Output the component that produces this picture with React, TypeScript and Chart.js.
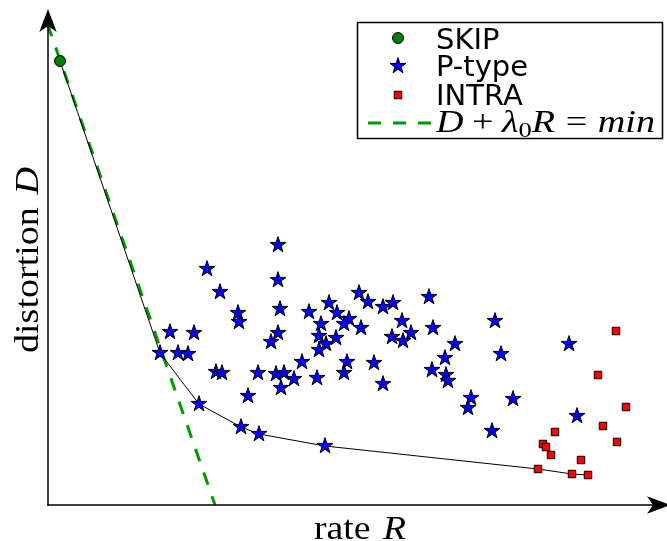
import React, { useEffect, useRef } from "react";
import { Chart, registerables } from "chart.js";

Chart.register(...registerables);

// ---- data (rate R, distortion D) in arbitrary units ----
const skipRate = [13];
const skipDist = [444];

const pRate = [
  113, 152, 194, 212, 278,
  123, 147, 131, 141, 160, 173, 191, 192, 231, 231, 233, 231, 224, 169, 175,
  211, 229, 237, 247, 234, 201, 255, 262, 282, 290, 274, 272, 289, 279, 272,
  270, 312, 321, 302, 297, 314, 336, 346, 355, 364, 345, 356, 382, 386, 408,
  398, 385, 399, 401, 327, 336, 300, 297, 448, 454, 424, 421, 466, 445, 522, 530,
];
const pDist = [
  152, 101, 78, 71, 59,
  173, 172, 152, 151, 236, 213, 192, 183, 260, 225, 196, 172, 163, 133, 132,
  132, 131, 132, 126, 117, 109, 143, 193, 202, 192, 181, 169, 167, 161, 155,
  127, 212, 203, 186, 181, 177, 198, 202, 184, 172, 168, 164, 208, 177, 161,
  147, 135, 130, 124, 142, 121, 143, 132, 184, 151, 107, 97, 106, 74, 161, 89,
];

const intraRate = [569, 551, 579, 556, 570, 508, 496, 499, 504, 534, 491, 525, 541];
const intraDist = [174, 130, 98, 79, 63, 73, 61, 58, 50, 45, 36, 31, 30];

const frontierRate = [13, 113, 152, 194, 212, 278, 491, 525, 541];
const frontierDist = [444, 152, 101, 78, 71, 59, 36, 31, 30];

const lambdaRate = [0.5, 168];
const lambdaDist = [481, 0];

const seriesLabels = ["SKIP", "P-type", "INTRA", "frontier", "D + λ0R = min"];
const xTitle = ["rate", "R"];
const yTitle = ["distortion", "D"];

const toPts = (xs: number[], ys: number[]) => xs.map((x, i) => ({ x, y: ys[i] }));

function makeStar(R: number, fill: string, stroke: string) {
  const c = document.createElement("canvas");
  const size = 22;
  c.width = size;
  c.height = size;
  const ctx = c.getContext("2d")!;
  const cx = size / 2;
  const cy = size / 2;
  const r = R * 0.381966;
  ctx.beginPath();
  for (let i = 0; i < 10; i++) {
    const rad = i % 2 === 0 ? R : r;
    const a = -Math.PI / 2 + (i * Math.PI) / 5;
    const x = cx + rad * Math.cos(a);
    const y = cy + rad * Math.sin(a);
    if (i === 0) ctx.moveTo(x, y);
    else ctx.lineTo(x, y);
  }
  ctx.closePath();
  ctx.fillStyle = fill;
  ctx.fill();
  ctx.lineWidth = 1;
  ctx.strokeStyle = stroke;
  ctx.stroke();
  return c;
}

type Seg = { t?: string; it?: boolean; sub?: boolean; gap?: number };

function drawRich(ctx: CanvasRenderingContext2D, segs: Seg[], size: number, target: number) {
  const parts = segs.map((s) => {
    if (s.gap != null) return { w: s.gap * size, s, font: "" };
    const fs = s.sub ? size * 0.7 : size;
    const font = `${s.it ? "italic " : ""}${fs}px "Liberation Serif", serif`;
    ctx.font = font;
    return { w: ctx.measureText(s.t!).width, s, font };
  });
  const total = parts.reduce((a, p) => a + p.w, 0);
  const sx = target / total;
  ctx.save();
  ctx.scale(sx, 1);
  ctx.textBaseline = "alphabetic";
  ctx.textAlign = "left";
  let x = 0;
  for (const p of parts) {
    if (p.s.t) {
      ctx.font = p.font;
      ctx.fillText(p.s.t, x, p.s.sub ? size * 0.16 : 0);
    }
    x += p.w;
  }
  ctx.restore();
}

function arrowHead(ctx: CanvasRenderingContext2D, tx: number, ty: number, dir: "up" | "right") {
  const L = 23, W = 8.7, N = 17;
  ctx.beginPath();
  if (dir === "up") {
    ctx.moveTo(tx, ty);
    ctx.lineTo(tx + W, ty + L);
    ctx.lineTo(tx, ty + N);
    ctx.lineTo(tx - W, ty + L);
  } else {
    ctx.moveTo(tx, ty);
    ctx.lineTo(tx - L, ty - W);
    ctx.lineTo(tx - N, ty);
    ctx.lineTo(tx - L, ty + W);
  }
  ctx.closePath();
  ctx.fill();
}

export default function App() {
  const ref = useRef<HTMLCanvasElement | null>(null);

  useEffect(() => {
    if (!ref.current) return;
    const star = makeStar(8.4, "#0000ff", "#000000");
    const green = "#008000";
    const dashGreen = "#009a00";

    const decor = {
      id: "decor",
      afterDraw(chart: any) {
        const ctx: CanvasRenderingContext2D = chart.ctx;
        const ca = chart.chartArea;
        const ax = ca.left + 1;
        const ay = ca.bottom;
        ctx.save();
        ctx.fillStyle = "#000";
        ctx.strokeStyle = "#000";
        ctx.lineWidth = 1.5;
        ctx.beginPath();
        ctx.moveTo(ax, ay + 0.75);
        ctx.lineTo(ax, ca.top + 14);
        ctx.stroke();
        ctx.beginPath();
        ctx.moveTo(ax - 0.75, ay);
        ctx.lineTo(ca.right - 10, ay);
        ctx.stroke();
        arrowHead(ctx, ax, ca.top - 3, "up");
        arrowHead(ctx, ca.right + 3, ay, "right");

        // axis titles
        ctx.fillStyle = "#000";
        ctx.save();
        ctx.translate(314, 539);
        drawRich(ctx, [{ t: xTitle[0] }, { gap: 0.333 }, { t: xTitle[1], it: true }], 33, 92);
        ctx.restore();
        ctx.save();
        ctx.translate(38, 353);
        ctx.rotate(-Math.PI / 2);
        drawRich(ctx, [{ t: yTitle[0] }, { gap: 0.333 }, { t: yTitle[1], it: true }], 34, 186);
        ctx.restore();

        // legend
        const ds = chart.data.datasets;
        ctx.fillStyle = "#fff";
        ctx.fillRect(357, 22, 306, 117);
        ctx.lineWidth = 1.5;
        ctx.strokeStyle = "#000";
        ctx.strokeRect(357.5, 22.5, 305, 116);
        const mx = 398;
        ctx.beginPath();
        ctx.arc(mx, 38, 5.5, 0, Math.PI * 2);
        ctx.fillStyle = green;
        ctx.fill();
        ctx.lineWidth = 1;
        ctx.stroke();
        ctx.drawImage(star, mx - star.width / 2, 66 - star.height / 2);
        ctx.fillStyle = "#ff0000";
        ctx.fillRect(mx - 3.75, 95 - 3.75, 7.5, 7.5);
        ctx.strokeRect(mx - 3.75, 95 - 3.75, 7.5, 7.5);
        ctx.save();
        ctx.strokeStyle = dashGreen;
        ctx.lineWidth = 3;
        ctx.setLineDash([13, 12]);
        ctx.beginPath();
        ctx.moveTo(368, 123);
        ctx.lineTo(431, 123);
        ctx.stroke();
        ctx.restore();
        ctx.fillStyle = "#000";
        ctx.font = '29px "DejaVu Sans", sans-serif';
        ctx.textBaseline = "alphabetic";
        ctx.textAlign = "left";
        ctx.fillText(ds[0].label, 436, 49);
        ctx.fillText(ds[1].label, 436, 75.5);
        ctx.fillText(ds[2].label, 436, 104.5);
        ctx.save();
        ctx.translate(436, 132);
        drawRich(
          ctx,
          [
            { t: "D", it: true },
            { gap: 0.222 },
            { t: "+" },
            { gap: 0.222 },
            { t: "λ", it: true },
            { t: "0", sub: true },
            { t: "R", it: true },
            { gap: 0.278 },
            { t: "=" },
            { gap: 0.278 },
            { t: "min", it: true },
          ],
          31,
          219
        );
        ctx.restore();
        ctx.restore();
      },
    };

    const chart = new Chart(ref.current, {
      type: "scatter",
      data: {
        datasets: [
          {
            label: seriesLabels[0],
            data: toPts(skipRate, skipDist),
            pointStyle: "circle",
            pointRadius: 5.5,
            pointBackgroundColor: green,
            pointBorderColor: "#000",
            pointBorderWidth: 1,
            showLine: false,
          },
          {
            label: seriesLabels[1],
            data: toPts(pRate, pDist),
            pointStyle: star as any,
            pointRadius: 8,
            showLine: false,
          },
          {
            label: seriesLabels[2],
            data: toPts(intraRate, intraDist),
            pointStyle: "rect",
            pointRadius: 5.3,
            pointBackgroundColor: "#ff0000",
            pointBorderColor: "#000",
            pointBorderWidth: 1,
            showLine: false,
          },
          {
            label: seriesLabels[3],
            data: toPts(frontierRate, frontierDist),
            showLine: true,
            borderColor: "#000",
            borderWidth: 1,
            pointRadius: 0,
            fill: false,
          },
          {
            label: seriesLabels[4],
            data: toPts(lambdaRate, lambdaDist),
            showLine: true,
            borderColor: dashGreen,
            borderWidth: 3,
            borderDash: [13, 12],
            pointRadius: 0,
            fill: false,
          },
        ],
      } as any,
      options: {
        animation: false,
        responsive: false,
        events: [],
        layout: { autoPadding: false, padding: { left: 47, right: 0, top: 12, bottom: 36 } },
        scales: {
          x: { type: "linear", min: 0, max: 620, display: false },
          y: { type: "linear", min: 0, max: 493, display: false },
        },
        plugins: { legend: { display: false }, tooltip: { enabled: false } },
      },
      plugins: [decor],
    });
    return () => chart.destroy();
  }, []);

  return (
    <div style={{ position: "fixed", left: 0, top: 0, width: 667, height: 541, background: "#fff" }}>
      <canvas ref={ref} width={667} height={541} style={{ display: "block" }} />
    </div>
  );
}
